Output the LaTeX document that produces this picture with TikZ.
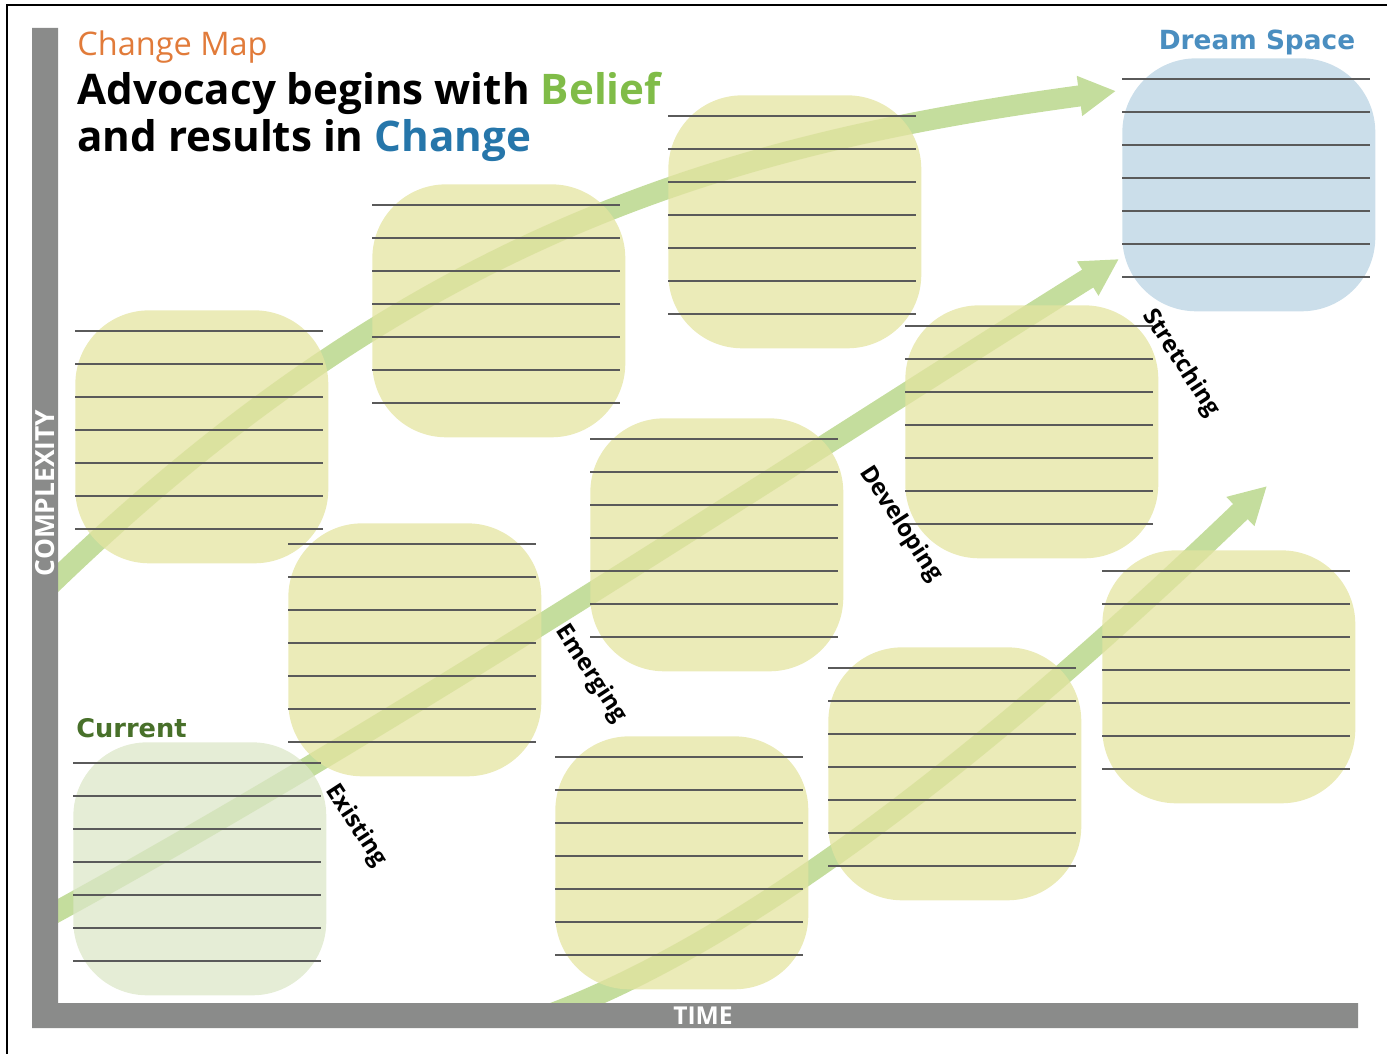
\documentclass[tikz,border=0pt]{standalone}
\usepackage{fontspec}
\usepackage{xcolor}
\setmainfont{Open Sans}
\newfontfamily\heavyfont{DejaVu Sans}
\usetikzlibrary{calc,arrows.meta,positioning}
\definecolor{mapOrange}{RGB}{225,123,58}
\definecolor{beliefGreen}{RGB}{128,188,72}
\definecolor{changeBlue}{RGB}{38,118,170}
\definecolor{dreamBlue}{RGB}{74,142,192}
\definecolor{currentGreen}{RGB}{72,112,42}
\definecolor{axisGray}{RGB}{138,139,138}
\definecolor{pathGreen}{RGB}{196,221,157}
\definecolor{stepYellow}{RGB}{228,228,160}
\definecolor{nowGreen}{RGB}{220,231,200}
\definecolor{dreamFill}{RGB}{185,211,227}
\definecolor{ruleGray}{RGB}{90,90,90}

\begin{document}
\begin{tikzpicture}[x=0.02cm, y=-0.02cm,
  stepbox/.style={rectangle, rounded corners=42pt, minimum width=5.06cm, minimum height=5.06cm,
    inner sep=0pt, fill=stepYellow, fill opacity=0.75, anchor=north west},
  rule/.style={ruleGray, line width=0.8pt},
  pathway/.style={pathGreen, line width=12pt, -{Triangle[width=21.5pt,length=21pt]}},
  stage/.style={font=\bfseries\fontsize{13.5}{15}\selectfont, rotate=-57, inner sep=0pt},
  axislabel/.style={white, font=\bfseries\fontsize{14}{16}\selectfont, inner sep=0pt}]
\useasboundingbox (0,0) rectangle (1387,1054);
\draw[line width=1.1pt] (7,1060) -- (7,5) -- (1392,5);

\coordinate (startA) at (45,590);
\coordinate (tipA) at (1116,91);
\coordinate (startB) at (45,918);
\coordinate (tipB) at (1119,259);
\coordinate (startC) at (540,1018);
\coordinate (tipC) at (1267,486);
\draw[pathway] (startA) .. controls (405,240) and (716,145) .. (tipA);
\draw[pathway] (startB) .. controls (395,727) and (769,478) .. (tipB);
\draw[pathway] (startC) .. controls (760,939) and (1017,726) .. (tipC);

\foreach \n/\x/\y in {a/75/310, b/372/184, c/668/95, d/590/418, e/905/305,
                      f/288/523, g/555/736, h/828/647, i/1102/550}
  \node[stepbox] (\n) at (\x,\y) {};
\node[stepbox, fill=nowGreen] (current) at (73,742) {};
\node[stepbox, fill=dreamFill] (dream) at (1122,58) {};

\foreach \n in {a,b,c,d,e,f,g,h,i,current,dream}
  \foreach \k in {0,...,6}
    \draw[rule] ($(\n.north west)+(0,21+33*\k)$) -- ++(248,0);

\fill[axisGray] (32,28) -- (58,28) -- (58,1003) -- (1358,1003) -- (1358,1028) -- (32,1028) -- cycle;
\node[axislabel, rotate=90, font=\bfseries\fontsize{15}{17}\selectfont] (complexity) at (45,493) {COMPLEXITY};
\node[axislabel] (time) at (703,1016) {TIME};

\node[anchor=base west, inner sep=0pt, text=mapOrange, font=\fontsize{18.5}{22}\selectfont] (maptitle) at (77,56) {Change Map};
\node[anchor=base west, inner sep=0pt, font=\bfseries\fontsize{24}{27}\selectfont] (headone) at (77,105)
  {Advocacy begins with \textcolor{beliefGreen}{Belief}};
\node[anchor=base west, inner sep=0pt, font=\bfseries\fontsize{24}{27}\selectfont] (headtwo) at (77,152)
  {and results in \textcolor{changeBlue}{Change}};
\node[anchor=base, inner sep=0pt, text=dreamBlue, font=\heavyfont\bfseries\fontsize{15}{17}\selectfont] (dreamlabel) at (1257,50) {Dream Space};
\node[anchor=base west, inner sep=0pt, text=currentGreen, font=\heavyfont\bfseries\fontsize{14.6}{17}\selectfont] (nowlabel) at (76,737) {Current};

\node[stage] (existing) at (356,826) {Existing};
\node[stage] (emerging) at (591,674) {Emerging};
\node[stage] (developing) at (901,524) {Developing};
\node[stage] (stretching) at (1181,363) {Stretching};
\end{tikzpicture}
\end{document}
